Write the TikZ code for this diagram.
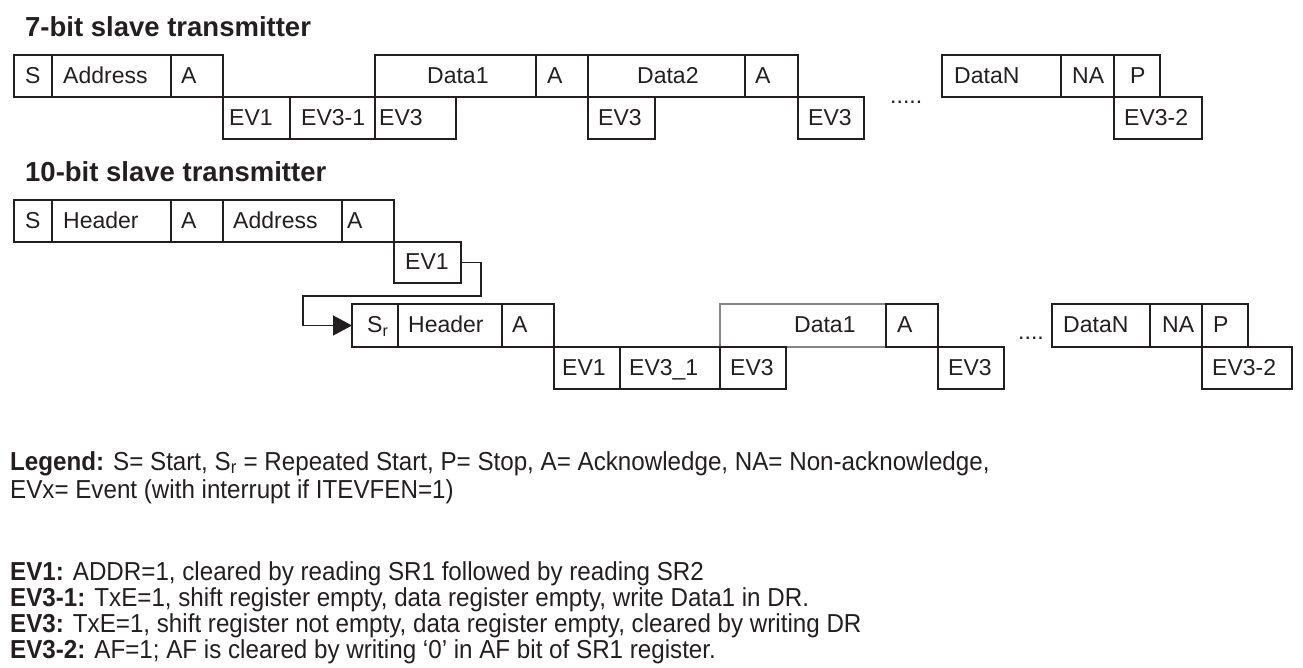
\documentclass[tikz,border=0pt]{standalone}
\usepackage{fontspec}
\setmainfont{Liberation Sans}
\newfontfamily\legfont[FakeStretch=0.93]{Liberation Sans}
\usetikzlibrary{arrows.meta}
\definecolor{ink}{HTML}{231F20}
\tikzset{
  cell/.style={draw=ink, line width=1.3pt, inner sep=0pt, outer sep=0pt, rectangle},
  txt/.style={text=ink, inner sep=0pt, font=\fontsize{23}{27}\selectfont},
  ttl/.style={text=ink, inner sep=0pt, font=\fontsize{27.5}{31}\selectfont\bfseries},
  leg/.style={text=ink, inner sep=0pt, font=\legfont\fontsize{26}{29}\selectfont},
  conn/.style={draw=ink, line width=1.3pt}
}
\newcommand\mkcell[7]{%
  \node[cell, anchor=north west, minimum width={(#4-#2)*1pt}, minimum height={(#5-#3)*1pt}] (#1) at (#2,#3) {};
  \node[txt, anchor=base west] (#1-t) at (#6,{(#3+#5)/2+7}) {#7};
}
\begin{document}
\begin{tikzpicture}[x=1pt,y=-1pt]
\useasboundingbox (0,0) rectangle (1303,667);
% titles
\node[ttl, anchor=base west] (t7) at (25,36) {7-bit slave transmitter};
\node[ttl, anchor=base west] (t10) at (25,181) {10-bit slave transmitter};
% 7-bit top row
\mkcell{s7}{14}{55}{52}{97}{25}{S}
\mkcell{addr7}{52}{55}{171}{97}{63}{Address}
\mkcell{a7a}{171}{55}{223}{97}{181}{A}
\mkcell{d17}{375}{55}{536}{97}{427}{Data1}
\mkcell{a7b}{536}{55}{588}{97}{547}{A}
\mkcell{d27}{588}{55}{745}{97}{637}{Data2}
\mkcell{a7c}{745}{55}{798}{97}{755}{A}
\mkcell{dn7}{942}{55}{1061}{97}{954}{DataN}
\mkcell{na7}{1061}{55}{1114}{97}{1072}{NA}
\mkcell{p7}{1114}{55}{1160}{97}{1130}{P}
% 7-bit bottom row
\mkcell{ev1a}{223}{97}{290}{139}{229}{EV1}
\mkcell{ev31a}{290}{97}{375}{139}{301}{EV3-1}
\mkcell{ev3a}{375}{97}{456}{139}{379}{EV3}
\mkcell{ev3b}{588}{97}{655}{139}{598}{EV3}
\mkcell{ev3c}{798}{97}{864}{139}{808}{EV3}
\mkcell{ev32a}{1114}{97}{1202}{139}{1124}{EV3-2}
\node[txt, anchor=base west] (dots7) at (890,103) {.....};
% 10-bit top row
\mkcell{s10}{14}{200}{52}{242}{25}{S}
\mkcell{hd10}{52}{200}{171}{242}{63}{Header}
\mkcell{a10a}{171}{200}{223}{242}{181}{A}
\mkcell{ad10}{223}{200}{342}{242}{233}{Address}
\mkcell{a10b}{342}{200}{394}{242}{347}{A}
\mkcell{ev1b}{394}{242}{461}{283}{405}{EV1}
% 10-bit second row
\mkcell{sr}{352}{304}{398}{347}{367}{S\textsubscript{r}}
\mkcell{hd10b}{398}{304}{502}{347}{408}{Header}
\mkcell{a10c}{502}{304}{554}{347}{512}{A}
\node[cell, draw=ink!55, anchor=north west, minimum width=166pt, minimum height=43pt] (d110) at (720,304) {};
\node[txt, anchor=base west] (d110-t) at (794,332.5) {Data1};
\mkcell{a10d}{886}{304}{938}{347}{897}{A}
\node[txt, anchor=base west] (dots10) at (1018,339) {....};
\mkcell{dn10}{1052}{304}{1150}{347}{1063}{DataN}
\mkcell{na10}{1150}{304}{1202}{347}{1162}{NA}
\mkcell{p10}{1202}{304}{1248}{347}{1213}{P}
% 10-bit bottom row
\mkcell{ev1c}{554}{347}{620}{389}{562}{EV1}
\mkcell{ev31b}{620}{347}{720}{389}{629}{EV3\_1}
\mkcell{ev3d}{720}{347}{786}{389}{730}{EV3}
\mkcell{ev3e}{938}{347}{1004}{389}{948}{EV3}
\mkcell{ev32b}{1202}{347}{1292}{389}{1212}{EV3-2}
% connector
\coordinate (c1) at (481,296);
\coordinate (c2) at (303,296);
\draw[conn, -{Triangle[length=19pt,width=20pt]}] (ev1b.east) -| (c1) -- (c2) |- (sr.west);
% legend
\node[leg, anchor=base west] (l1) at (10,470) {\textbf{Legend:} S= Start, S\textsubscript{r} = Repeated Start, P= Stop, A= Acknowledge, NA= Non-acknowledge,};
\node[leg, anchor=base west] (l2) at (10,498) {EVx= Event (with interrupt if ITEVFEN=1)};
\node[leg, anchor=base west] (l3) at (10,580) {\textbf{EV1:} ADDR=1, cleared by reading SR1 followed by reading SR2};
\node[leg, anchor=base west] (l4) at (10,606) {\textbf{EV3-1:} TxE=1, shift register empty, data register empty, write Data1 in DR.};
\node[leg, anchor=base west] (l5) at (10,632) {\textbf{EV3:} TxE=1, shift register not empty, data register empty, cleared by writing DR};
\node[leg, anchor=base west] (l6) at (10,658) {\textbf{EV3-2:} AF=1; AF is cleared by writing ‘0’ in AF bit of SR1 register.};
\end{tikzpicture}
\end{document}
